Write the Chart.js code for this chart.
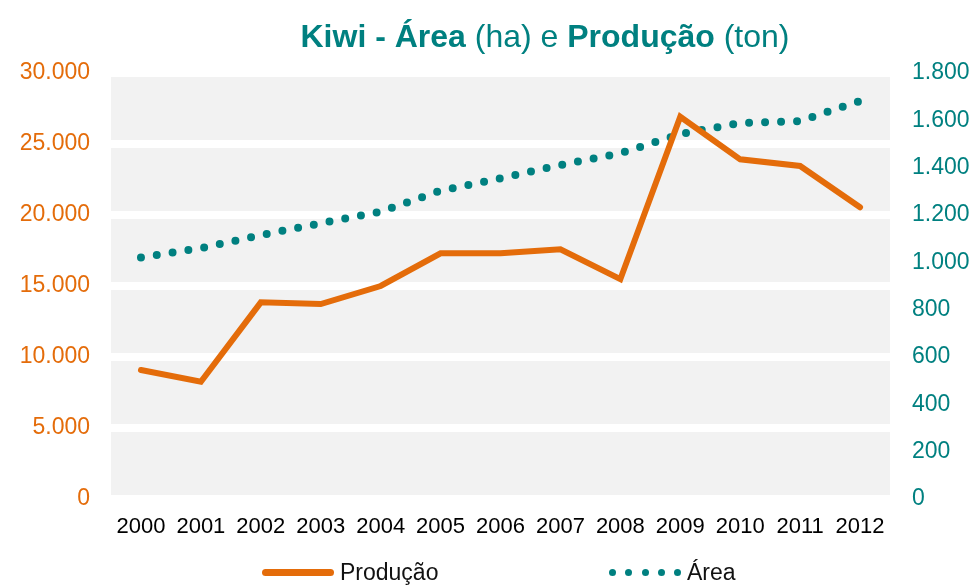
<!DOCTYPE html>
<html>
<head>
<meta charset="utf-8">
<script src="https://cdn.jsdelivr.net/npm/chart.js@4"></script>
<style>
  body { margin: 0; background: #fff; font-family: "Liberation Sans", Arial, sans-serif; }
  #wrap { position: relative; width: 976px; height: 588px; }
  #chart { position: absolute; left: 0; top: 0; }
  #title {
    position: absolute; left: 0; top: 20px; width: 976px; padding-left: 114px; box-sizing: border-box;
    text-align: center; font-size: 32px; line-height: 32px; color: #008080; white-space: nowrap;
  }
  #title b { font-weight: bold; }
  .leg { position: absolute; font-size: 23px; line-height: 23px; color: #111; top: 561px; }
  .legLine { position: absolute; left: 262px; top: 569px; width: 72px; height: 7px; border-radius: 4px; background: #e46c0a; }
  .dot { position: absolute; top: 569px; width: 7px; height: 7px; border-radius: 50%; background: #008080; }
</style>
</head>
<body>
<div id="wrap">
  <canvas id="chart" width="976" height="588"></canvas>
  <div id="title"><b>Kiwi - Área</b> (ha) e <b>Produção</b> (ton)</div>
  <div class="legLine"></div>
  <div class="leg" style="left:340px">Produção</div>
  <div class="dot" style="left:609px"></div>
  <div class="dot" style="left:625px"></div>
  <div class="dot" style="left:642px"></div>
  <div class="dot" style="left:658px"></div>
  <div class="dot" style="left:674px"></div>
  <div class="leg" style="left:687px">Área</div>
</div>
<script>
// data
const years = ['2000', '2001', '2002', '2003', '2004', '2005', '2006', '2007', '2008', '2009', '2010', '2011', '2012'];
const producao = [9080, 8260, 13850, 13730, 15000, 17300, 17300, 17580, 15480, 26920, 23920, 23450, 20540];
const area = [1020, 1060, 1115, 1165, 1214, 1303, 1355, 1411, 1461, 1542, 1589, 1597, 1682];

const orange = '#e46c0a';
const teal = '#008080';

// dots "1.800" style thousands
function fmt(v) {
    return String(v).replace(/\B(?=(\d{3})+(?!\d))/g, '.');
}

// grey plot background, white grid lines go over it
const plotBg = {
    id: 'plotBg',
    beforeDraw(chart) {
        const a = chart.chartArea;
        const ctx = chart.ctx;
        ctx.save();
        ctx.fillStyle = '#f2f2f2';
        ctx.fillRect(a.left, a.top, a.right - a.left, a.bottom - a.top);
        ctx.restore();
    }
};

const ctx = document.getElementById('chart').getContext('2d');
new Chart(ctx, {
    type: 'line',
    data: {
        labels: years,
        datasets: [
            {
                label: 'Produção',
                data: producao,
                yAxisID: 'y',
                borderColor: orange,
                borderWidth: 6,
                borderCapStyle: 'round',
                borderJoinStyle: 'miter',
                pointRadius: 0,
                tension: 0
            },
            {
                label: 'Área',
                data: area,
                yAxisID: 'y1',
                borderColor: teal,
                borderWidth: 8,
                borderCapStyle: 'round',
                borderDash: [0, 16],
                pointRadius: 0,
                tension: 0
            }
        ]
    },
    options: {
        responsive: false,
        animation: false,
        layout: { padding: { top: 73, left: 0, right: 0, bottom: 0 } },
        plugins: {
            legend: { display: false },
            title: { display: false },
            tooltip: { enabled: false }
        },
        scales: {
            x: {
                offset: true,
                grid: { display: false, drawTicks: false },
                border: { display: false },
                ticks: {
                    color: '#000',
                    padding: 15,
                    maxRotation: 0,
                    font: { family: 'Liberation Sans', size: 22 }
                },
                afterFit(scale) { scale.height = 89; }
            },
            y: {
                position: 'left',
                min: 0,
                max: 30000,
                grid: { color: '#ffffff', lineWidth: 8, drawTicks: false },
                border: { display: false },
                ticks: {
                    stepSize: 5000,
                    color: orange,
                    padding: 21,
                    font: { family: 'Liberation Sans', size: 23 },
                    callback: v => fmt(v)
                },
                afterFit(scale) { scale.width = 111; }
            },
            y1: {
                position: 'right',
                min: 0,
                max: 1800,
                grid: { drawOnChartArea: false, drawTicks: false },
                border: { display: false },
                ticks: {
                    stepSize: 200,
                    color: teal,
                    padding: 22,
                    font: { family: 'Liberation Sans', size: 23 },
                    callback: v => fmt(v)
                },
                afterFit(scale) { scale.width = 86; }
            }
        }
    },
    plugins: [plotBg]
});
</script>
</body>
</html>
